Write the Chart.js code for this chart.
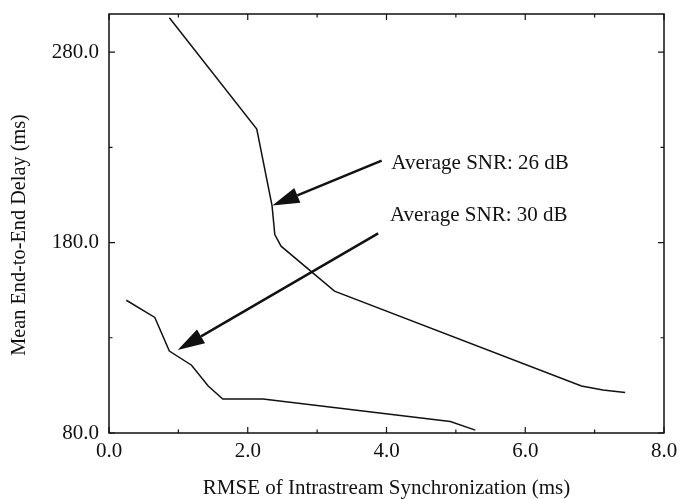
<!DOCTYPE html>
<html>
<head>
<meta charset="utf-8">
<script src="https://cdn.jsdelivr.net/npm/chart.js@4"></script>
<style>
  body { margin: 0; background: #fff; }
  #wrap { width: 680px; height: 499px; }
</style>
</head>
<body>
<div id="wrap"><canvas id="delayChart"></canvas></div>
<script>
// curve values
const snr26X = [0.87, 2.13, 2.35, 2.39, 2.48, 3.25, 6.81, 7.12, 7.44];
const snr26Y = [298, 239.6, 199.4, 184.2, 178.1, 154.5, 104.7, 102.6, 101.3];
const snr30X = [0.25, 0.66, 0.87, 1.19, 1.43, 1.64, 2.22, 4.92, 5.28];
const snr30Y = [149.7, 140.7, 123, 115.6, 104.7, 97.8, 97.8, 86, 81.5];

const yTickValues = [80, 180, 280];
const yMinorTicks = [130, 230];
const xMinorTicks = [1, 3, 5, 7];

const xTitle = "RMSE of Intrastream Synchronization (ms)";
const yTitle = "Mean End-to-End Delay (ms)";

// annotations (data units)
const noteLabels = ["Average SNR: 26 dB", "Average SNR: 30 dB"];
const noteTextPos = [[4.07, 221.5], [4.05, 194]];
const noteArrowFrom = [[3.93, 223], [3.88, 184.8]];
const noteArrowTo = [[2.355, 199.4], [0.99, 123.6]];

const serif = "'Liberation Serif', 'Times New Roman', serif";
const ink = "#111";

const toPoints = (xs, ys) => xs.map((v, i) => ({ x: v, y: ys[i] }));

const framePlugin = {
    id: "frame",
    afterDatasetsDraw(chart) {
        const { ctx, chartArea: a, scales: { x, y } } = chart;
        ctx.save();
        ctx.strokeStyle = ink;
        ctx.lineWidth = 1.5;
        ctx.strokeRect(a.left, a.top, a.right - a.left, a.bottom - a.top);

        // inward ticks on all four sides
        ctx.lineWidth = 1.2;
        ctx.beginPath();
        const xTick = (v, len) => {
            const px = x.getPixelForValue(v);
            ctx.moveTo(px, a.bottom); ctx.lineTo(px, a.bottom - len);
            ctx.moveTo(px, a.top); ctx.lineTo(px, a.top + len);
        };
        const yTick = (v, len) => {
            const py = y.getPixelForValue(v);
            ctx.moveTo(a.left, py); ctx.lineTo(a.left + len, py);
            ctx.moveTo(a.right, py); ctx.lineTo(a.right - len, py);
        };
        x.ticks.forEach(t => xTick(t.value, 6));
        xMinorTicks.forEach(v => xTick(v, 3.5));
        yTickValues.forEach(v => yTick(v, 6));
        yMinorTicks.forEach(v => yTick(v, 3.5));
        ctx.stroke();

        // arrows
        ctx.fillStyle = ink;
        ctx.lineWidth = 2.4;
        noteArrowFrom.forEach((from, i) => {
            const x0 = x.getPixelForValue(from[0]), y0 = y.getPixelForValue(from[1]);
            const x1 = x.getPixelForValue(noteArrowTo[i][0]), y1 = y.getPixelForValue(noteArrowTo[i][1]);
            const ang = Math.atan2(y1 - y0, x1 - x0);
            const headLen = 27, headW = 8;
            const bx = x1 - headLen * Math.cos(ang), by = y1 - headLen * Math.sin(ang);
            ctx.beginPath();
            ctx.moveTo(x0, y0);
            ctx.lineTo(bx, by);
            ctx.stroke();
            ctx.beginPath();
            ctx.moveTo(x1, y1);
            ctx.lineTo(bx + headW * Math.sin(ang), by - headW * Math.cos(ang));
            ctx.lineTo(bx - headW * Math.sin(ang), by + headW * Math.cos(ang));
            ctx.closePath();
            ctx.fill();
        });

        // annotation text
        ctx.font = "21px " + serif;
        ctx.textAlign = "left";
        ctx.textBaseline = "middle";
        noteLabels.forEach((txt, i) => {
            ctx.fillText(txt, x.getPixelForValue(noteTextPos[i][0]), y.getPixelForValue(noteTextPos[i][1]));
        });

        // y axis title
        ctx.save();
        ctx.font = "20.3px " + serif;
        ctx.translate(20, 235);
        ctx.rotate(-Math.PI / 2);
        ctx.textAlign = "center";
        ctx.fillText(yTitle, 0, 0);
        ctx.restore();

        ctx.restore();
    }
};

const lineStyle = {
    borderColor: ink,
    borderWidth: 1.5,
    pointRadius: 0,
    tension: 0,
    fill: false
};

new Chart(document.getElementById("delayChart"), {
    type: "line",
    data: {
        datasets: [
            { label: "Average SNR: 26 dB", data: toPoints(snr26X, snr26Y), ...lineStyle },
            { label: "Average SNR: 30 dB", data: toPoints(snr30X, snr30Y), ...lineStyle }
        ]
    },
    options: {
        responsive: true,
        maintainAspectRatio: false,
        animation: false,
        layout: { padding: { left: 0, top: 14, right: 16, bottom: 0 } },
        plugins: {
            legend: { display: false },
            tooltip: { enabled: false }
        },
        scales: {
            x: {
                type: "linear",
                min: 0,
                max: 8,
                grid: { display: false, drawTicks: false },
                border: { display: false },
                ticks: {
                    stepSize: 2,
                    padding: 6,
                    color: ink,
                    font: { family: serif, size: 21 },
                    maxRotation: 0,
                    callback: v => v.toFixed(1)
                },
                title: {
                    display: true,
                    text: xTitle,
                    color: ink,
                    font: { family: serif, size: 21, lineHeight: 1 },
                    padding: { top: 0, bottom: 0 }
                },
                afterFit: scale => {
                    scale.height = 66;
                    scale.paddingLeft = 0;
                    scale.paddingRight = 0;
                }
            },
            y: {
                min: 80,
                max: 300,
                grid: { display: false, drawTicks: false },
                border: { display: false },
                afterBuildTicks: scale => {
                    scale.ticks = yTickValues.map(v => ({ value: v }));
                },
                ticks: {
                    padding: 10,
                    color: ink,
                    font: { family: serif, size: 21 },
                    callback: v => v.toFixed(1)
                },
                afterFit: scale => {
                    scale.width = 109;
                    scale.paddingTop = 0;
                    scale.paddingBottom = 0;
                }
            }
        }
    },
    plugins: [framePlugin]
});
</script>
</body>
</html>
